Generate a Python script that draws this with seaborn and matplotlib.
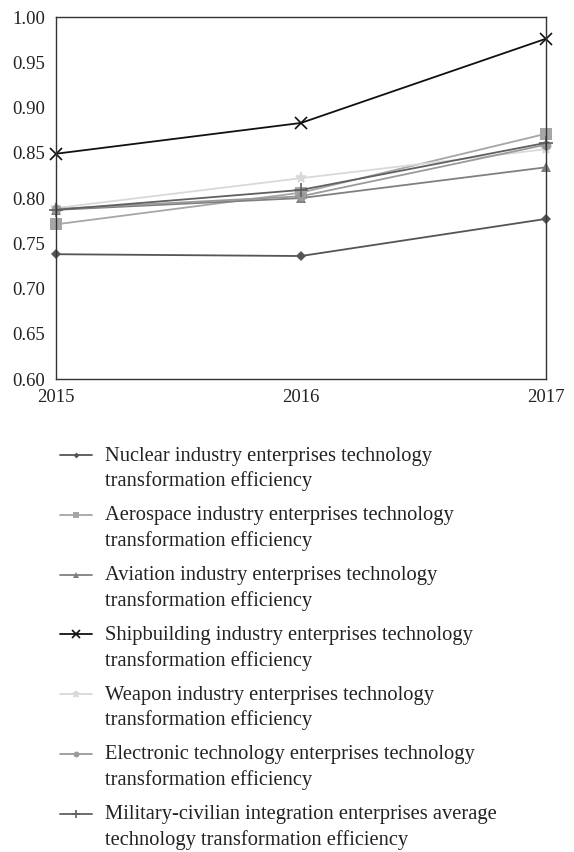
import pandas as pd
import seaborn as sns
import matplotlib.pyplot as plt

# values
years = [2015, 2016, 2017]
nuclear = [0.738, 0.736, 0.777]
aerospace = [0.771, 0.806, 0.871]
aviation = [0.787, 0.800, 0.834]
shipbuilding = [0.849, 0.883, 0.976]
weapon = [0.789, 0.822, 0.854]
electronic = [0.788, 0.802, 0.859]
average = [0.787, 0.809, 0.861]

labels = [
    "Nuclear industry enterprises technology\ntransformation efficiency",
    "Aerospace industry enterprises technology\ntransformation efficiency",
    "Aviation industry enterprises technology\ntransformation efficiency",
    "Shipbuilding industry enterprises technology\ntransformation efficiency",
    "Weapon industry enterprises technology\ntransformation efficiency",
    "Electronic technology enterprises technology\ntransformation efficiency",
    "Military-civilian integration enterprises average\ntechnology transformation efficiency",
]
series = [nuclear, aerospace, aviation, shipbuilding, weapon, electronic, average]

colors = ["#555555", "#a6a6a6", "#808080", "#111111", "#d9d9d9", "#9a9a9a", "#606060"]
markers = ["D", "s", "^", "x", "*", "o", "+"]
msizes = [5, 8, 7, 9, 8, 7, 10]

rows = []
for lab, vals in zip(labels, series):
    for yr, v in zip(years, vals):
        rows.append({"Year": yr, "Value": v, "Series": lab})
df = pd.DataFrame(rows)

sns.set_style("white")
plt.rcParams["font.family"] = ["Liberation Serif", "DejaVu Serif"]

fig = plt.figure(figsize=(5.74, 8.52), dpi=100)
ax = fig.add_axes([0.0976, 0.555, 0.8534, 0.425])

for lab, col, mk, ms in zip(labels, colors, markers, msizes):
    sub = df[df["Series"] == lab]
    sns.lineplot(
        data=sub, x="Year", y="Value", color=col, marker=mk,
        markersize=ms, markeredgecolor=col,
        markeredgewidth=1.2 if mk in "x+*" else 0,
        linewidth=1.3, label=lab, ax=ax, legend=False, clip_on=False,
    )

ax.set_xlim(2015, 2017)
ax.set_ylim(0.60, 1.00)
ax.set_xticks(years)
ax.set_yticks([0.60, 0.65, 0.70, 0.75, 0.80, 0.85, 0.90, 0.95, 1.00])
ax.set_yticklabels([f"{t:.2f}" for t in ax.get_yticks()])
ax.tick_params(axis="both", length=0, labelsize=13.5, colors="#222222")
ax.tick_params(axis="y", pad=8)
ax.tick_params(axis="x", pad=7)
ax.set_xlabel("")
ax.set_ylabel("")
for sp in ax.spines.values():
    sp.set_color("#333333")
    sp.set_linewidth(1.0)

# legend below the plot, marker line level with the first text line
handles, labs = ax.get_legend_handles_labels()
leg = fig.legend(
    handles, labs, loc="upper left", bbox_to_anchor=(0.087, 0.488),
    frameon=False, fontsize=14.8, handlelength=1.56, handletextpad=0.63,
    labelspacing=0.725, borderpad=0, labelcolor="#222222",
)
for t in leg.get_texts():
    t.set_linespacing(1.4)
for h in leg.legend_handles:
    h.set_markersize(h.get_markersize() * 0.6)
    h.set_ydata([y + 9.8 for y in h.get_ydata()])

plt.savefig("out.png", dpi=100)
plt.close()
